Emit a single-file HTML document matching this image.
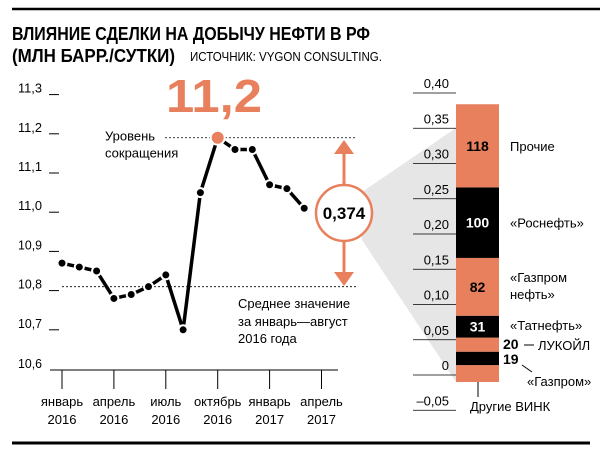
<!DOCTYPE html>
<html><head><meta charset="utf-8"><style>
body{margin:0;background:#fff}
svg{display:block;font-family:"Liberation Sans",sans-serif}
</style></head><body>
<svg id="chart" width="600" height="456" viewBox="0 0 600 456" xmlns="http://www.w3.org/2000/svg">
<rect width="600" height="456" fill="#fff"/>
<line x1="12" y1="9" x2="600" y2="9" stroke="#000" stroke-width="2.5"/>
<text x="12" y="40" font-size="18" font-weight="bold" textLength="358" lengthAdjust="spacingAndGlyphs">ВЛИЯНИЕ СДЕЛКИ НА ДОБЫЧУ НЕФТИ В РФ</text>
<text x="12" y="62" font-size="18" font-weight="bold" textLength="163" lengthAdjust="spacingAndGlyphs">(МЛН БАРР./СУТКИ)</text>
<text x="190" y="61" font-size="13" textLength="192" lengthAdjust="spacingAndGlyphs">ИСТОЧНИК: VYGON CONSULTING.</text>
<polygon points="356,196 456,128 456,382 362,240" fill="#e6e6e6"/>
<g id="left"></g>
<g id="right"></g>
<line x1="12" y1="443" x2="590" y2="443" stroke="#000" stroke-width="3"/>
</svg>
<script>
const NS="http://www.w3.org/2000/svg";
const yTicks=[10.6,10.7,10.8,10.9,11.0,11.1,11.2,11.3];
const yTickLabels=["10,6","10,7","10,8","10,9","11,0","11,1","11,2","11,3"];
const xTickLabels=[["январь","2016"],["апрель","2016"],["июль","2016"],["октябрь","2016"],["январь","2017"],["апрель","2017"]];
const xTickMonths=[0,3,6,9,12,15];
const production=[10.87,10.86,10.85,10.78,10.79,10.81,10.84,10.70,11.05,11.19,11.16,11.16,11.07,11.06,11.01];
const cutLevel=11.19;
const avgLevel=10.81;
const barValues=[24,19,20,31,82,100,118];
const barLabels=["","19","20","31","82","100","118"];
const barNames=["Другие ВИНК","«Газпром»","ЛУКОЙЛ","«Татнефть»","«Газпром нефть»","«Роснефть»","Прочие"];
const barColors=["#e8805e","#000","#e8805e","#000","#e8805e","#000","#e8805e"];
const rTicks=[-0.05,0,0.05,0.10,0.15,0.20,0.25,0.30,0.35,0.40];
const rTickLabels=["–0,05","0","0,05","0,10","0,15","0,20","0,25","0,30","0,35","0,40"];
const OR="#e8805e";
const y=v=>369-(v-10.6)*392;
const x=i=>62+i*17.3;
const ry=v=>375-v*705;
function mk(p,t,a){const e=document.createElementNS(NS,t);for(const k in a)e.setAttribute(k,a[k]);p.appendChild(e);return e;}
const L=document.getElementById('left');
yTicks.forEach((v,i)=>{
 const t=mk(L,'text',{x:18,y:y(v)+(i===0?-1:-2),'font-size':13,textLength:24,lengthAdjust:'spacingAndGlyphs'});t.textContent=yTickLabels[i];
 
 
 if(i>0){const l=mk(L,'line',{x1:49,x2:59,y1:y(v),y2:y(v),stroke:'#000','stroke-width':1});
 
 }
});
const ax=mk(L,'line',{x1:50,x2:338,y1:y(10.6)+1,y2:y(10.6)+1,stroke:'#000','stroke-width':1});


xTickMonths.forEach((m,i)=>{
 const l=mk(L,'line',{x1:x(m),x2:x(m),y1:y(10.6)+1,y2:y(10.6)+20,stroke:'#000'});
 
 
 xTickLabels[i].forEach((s,j)=>{const t=mk(L,'text',{x:x(m),y:406+j*18,'font-size':13,'text-anchor':'middle'});t.textContent=s;
 
 });
});
const d1=mk(L,'line',{x1:165,x2:356,y1:y(cutLevel),y2:y(cutLevel),stroke:'#000','stroke-dasharray':'2 2','stroke-width':0.8});


const d2=mk(L,'line',{x1:62,x2:356,y1:y(avgLevel),y2:y(avgLevel),stroke:'#000','stroke-dasharray':'2 2','stroke-width':0.8});


[["Уровень",y(cutLevel)+3],["сокращения",y(cutLevel)+20]].forEach(([s,yy])=>{const t=mk(L,'text',{x:105,y:yy,'font-size':13});t.textContent=s;
 
 });
[["Среднее значение",308],["за январь—август",326],["2016 года",343]].forEach(([s,yy])=>{const t=mk(L,'text',{x:238,y:yy,'font-size':13});t.textContent=s;
 
 });
production.forEach((v,i)=>{if(i>0){const l=mk(L,'line',{x1:x(i-1),y1:y(production[i-1]),x2:x(i),y2:y(v),stroke:'#000','stroke-width':3.5});
 
 }});
production.forEach((v,i)=>{const max=production.indexOf(Math.max(...production));
 const c=mk(L,'circle',{cx:x(i),cy:y(v),r:i===max?7:4.5,fill:i===max?OR:'#000',stroke:'#fff','stroke-width':2});
 
 });
const big=mk(L,'text',{x:214,y:112,'font-size':46,'font-weight':'bold',fill:OR,'text-anchor':'middle',textLength:96,lengthAdjust:'spacingAndGlyphs'});big.textContent="11,2";


const arr=mk(L,'g',{});


mk(arr,'line',{x1:344,x2:344,y1:150,y2:276,stroke:OR,'stroke-width':3});
mk(arr,'polygon',{points:'334,154 344,140 354,154',fill:OR});
mk(arr,'polygon',{points:'334,272 344,286 354,272',fill:OR});
const circ=mk(L,'circle',{cx:344,cy:213,r:28,fill:'#fff',stroke:OR,'stroke-width':2.5});


const dv=mk(L,'text',{x:344,y:219,'font-size':17,'font-weight':'bold','text-anchor':'middle'});dv.textContent="0,374";


const R=document.getElementById('right');
rTicks.forEach((v,i)=>{
 const l=mk(R,'line',{x1:413,x2:456,y1:ry(v),y2:ry(v),stroke:'#000','stroke-width':0.8});
 
 
 const t=mk(R,'text',{x:449,y:ry(v)-5,'font-size':13,'text-anchor':'end'});t.textContent=rTickLabels[i];
 
 
});
let base=382;
const segY=[];
barValues.forEach((v,i)=>{const h=v*0.705;const top=base-h;
 const r=mk(R,'rect',{x:456,y:top,width:43,height:h,fill:barColors[i]});
 
 
 segY.push([top,base]);
 if(i>=3&&barLabels[i]){const t=mk(R,'text',{x:477.5,y:(top+base)/2+5,'font-size':14,'font-weight':'bold','text-anchor':'middle',fill:barColors[i]==='#000'?'#fff':'#000'});t.textContent=barLabels[i];
 
 }
 base=top;});
const nm=(s,xx,yy)=>{const t=mk(R,'text',{x:xx,y:yy,'font-size':13});t.textContent=s;
 
 };
nm(barNames[6],510,(segY[6][0]+segY[6][1])/2+5);
nm(barNames[5],510,(segY[5][0]+segY[5][1])/2+5);
nm("«Газпром",510,282);nm("нефть»",510,299);
nm(barNames[3],510,330);
const v20=mk(R,'text',{x:503,y:349,'font-size':14,'font-weight':'bold'});v20.textContent=barLabels[2];


mk(R,'line',{x1:524,x2:534,y1:345,y2:345,stroke:'#000'});
nm(barNames[2],538,350);
const v19=mk(R,'text',{x:503,y:364,'font-size':14,'font-weight':'bold'});v19.textContent=barLabels[1];


mk(R,'line',{x1:522,x2:532,y1:365,y2:372,stroke:'#000'});
nm(barNames[1],527,386);
mk(R,'line',{x1:478,x2:478,y1:382,y2:397,stroke:'#000'});
nm(barNames[0],470,411);
</script>
</body></html>
